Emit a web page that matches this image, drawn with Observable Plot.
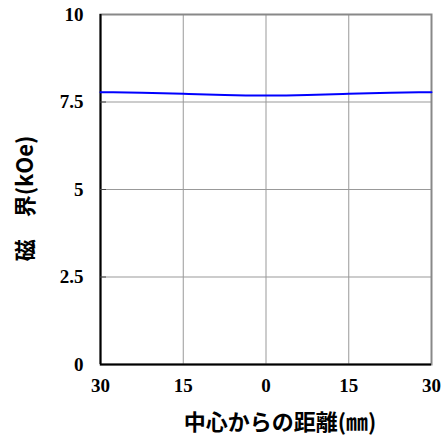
<!DOCTYPE html>
<html><head><meta charset="utf-8">
<script src="https://cdn.jsdelivr.net/npm/d3@7"></script>
<script src="https://cdn.jsdelivr.net/npm/@observablehq/plot@0.6"></script>
<style>
body{margin:0;background:#fff}
g[aria-label="x-axis tick label"] text, g[aria-label="y-axis tick label"] text { font-family: "Liberation Serif", "DejaVu Serif", serif !important; }
</style>
</head><body><div id="chart"></div>
<script>
const distance = [-30, -22.5, -15, -7.5, 0, 7.5, 15, 22.5, 30];
const field = [7.78, 7.765, 7.735, 7.70, 7.685, 7.70, 7.735, 7.765, 7.78];
const xTicks = [-30, -15, 0, 15, 30];
const yTicks = [0, 2.5, 5, 7.5, 10];
const xLabel = "中心からの距離(㎜)";
const yLabel = "磁　界(kOe)";

const data = distance.map((d, i) => ({x: d, y: field[i]}));
const numFont = "Liberation Serif, DejaVu Serif, serif";
const jpFont = "Noto Sans CJK JP, sans-serif";

const chart = Plot.plot({
  width: 443, height: 435,
  marginLeft: 100, marginRight: 12, marginTop: 14, marginBottom: 71,
  style: {background: "#fff"},
  x: {domain: [-30, 30], ticks: xTicks},
  y: {domain: [0, 10], ticks: yTicks},
  marks: [
    Plot.gridX(xTicks.slice(1, -1), {stroke: "#999", strokeOpacity: 1, strokeWidth: 1}),
    Plot.gridY(yTicks.slice(1, -1), {stroke: "#999", strokeOpacity: 1, strokeWidth: 1}),
    Plot.frame({stroke: "#888", strokeWidth: 2}),
    Plot.ruleY([0], {stroke: "#000", strokeWidth: 2}),
    Plot.ruleX([-30], {stroke: "#000", strokeWidth: 2}),
    Plot.axisY(yTicks.slice(1, -1), {tickSize: -6, stroke: "#444", strokeOpacity: 1, tickFormat: () => "", label: null}),
    Plot.axisX(xTicks, {tickSize: 0, tickPadding: 14, fontSize: 19, fontWeight: "bold", fontFamily: numFont, label: null, tickFormat: d => String(Math.abs(d))}),
    Plot.axisY(yTicks, {tickSize: 0, tickPadding: 17, fontSize: 19, fontWeight: "bold", fontFamily: numFont, label: null, tickFormat: d => String(d)}),
    Plot.line(data, {x: "x", y: "y", stroke: "#0000ff", strokeWidth: 2, curve: "natural"}),
    Plot.text([xLabel], {frameAnchor: "bottom", dy: 65, dx: 14, fontSize: 22, fontWeight: "bold", fontFamily: jpFont, fill: "#000"}),
    Plot.text([yLabel], {frameAnchor: "left", textAnchor: "middle", dx: -75, dy: 9, rotate: -90, fontSize: 22, fontWeight: "bold", fontFamily: jpFont, fill: "#000"})
  ]
});
document.getElementById("chart").appendChild(chart);
</script></body></html>
